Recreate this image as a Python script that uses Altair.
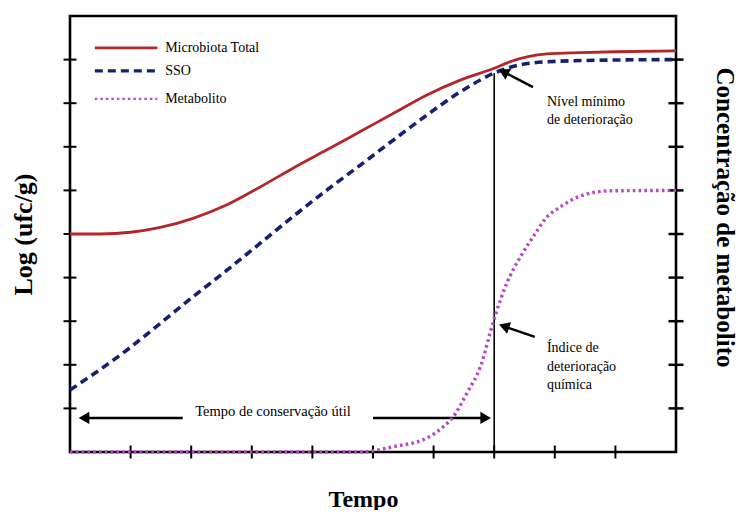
import altair as alt
import pandas as pd

# ---- data ----
x_tot = [0, 0.5, 1.0, 1.49, 2.03, 2.59, 3.14, 3.68, 4.24, 4.79, 5.34, 5.89, 6.44, 7.0, 7.26, 7.87, 8.42, 9.0, 10]
y_tot = [5.0, 5.0, 5.04, 5.15, 5.36, 5.67, 6.08, 6.51, 6.93, 7.35, 7.77, 8.19, 8.53, 8.80, 8.95, 9.13, 9.16, 9.18, 9.2]

x_sso = [0, 0.94, 1.49, 2.03, 2.59, 3.14, 3.68, 4.24, 4.79, 5.34, 5.89, 6.44, 7.0, 7.31, 7.87, 8.96, 10]
y_sso = [1.42, 2.34, 2.95, 3.56, 4.17, 4.79, 5.40, 6.01, 6.58, 7.16, 7.73, 8.26, 8.69, 8.84, 8.95, 8.99, 9.0]

x_met = [0, 4.8, 5.33, 5.89, 6.16, 6.32, 6.55, 6.77, 7.01, 7.21, 7.43, 7.64, 7.87, 8.09, 8.42, 8.91, 10]
y_met = [0, 0, 0.12, 0.32, 0.58, 0.80, 1.35, 1.95, 3.10, 3.88, 4.47, 4.93, 5.39, 5.62, 5.87, 5.99, 6.0]

series_names = ["Microbiota Total", "SSO", "Metabolito"]
series_colors = ["#b3272b", "#16206e", "#b946c3"]

tick_vals = [1, 2, 3, 4, 5, 6, 7, 8, 9]

# legend placement (data units)
leg_x0 = [0.41, 0.41, 0.41]
leg_x1 = [1.44, 1.44, 1.44]
leg_y = [9.27, 8.74, 8.10]
leg_tx = [1.57, 1.57, 1.57]

# vertical "shelf-life" marker
limit_x = 7.0
limit_top = 8.69

# annotation texts
ann_text = ["Nível mínimo", "de deterioração", "Índice de", "deterioração", "química"]
ann_x = [7.87, 7.87, 7.87, 7.87, 7.87]
ann_y = [8.03, 7.61, 2.39, 1.95, 1.54]

shelf_text = ["Tempo de conservação útil"]
shelf_x = [3.35]
shelf_y = [0.92]

# arrows: head centre, tail, head angle
arr_hx = [7.18, 7.19, 0.26, 6.83]
arr_hy = [8.70, 2.87, 0.78, 0.78]
arr_tx = [7.64, 7.67, 1.86, 5.0]
arr_ty = [8.37, 2.64, 0.78, 0.78]
arr_ang = [297, 289, 270, 90]

FONT = "Liberation Serif"

xs = alt.Scale(domain=[0, 10], nice=False, zero=False)
ys = alt.Scale(domain=[0, 10], nice=False, zero=False)

x_axis = alt.Axis(title="Tempo", labels=False, ticks=False, domain=False, grid=False,
                  titleFont=FONT, titleFontSize=24, titleFontWeight="bold", titleColor="black",
                  titlePadding=35, titleX=293)
y_axis = alt.Axis(title="Log (ufc/g)", labels=False, ticks=False, domain=False, grid=False,
                  titleFont=FONT, titleFontSize=26, titleFontWeight="bold", titleColor="black",
                  titlePadding=34)
y2_axis = alt.Axis(title="Concentração de metabolito", orient="right", labels=False, ticks=False,
                   domain=False, grid=False, titleFont=FONT, titleFontSize=25,
                   titleFontWeight="bold", titleColor="black", titlePadding=35, titleY=201)

X = lambda f: alt.X(f, type="quantitative", scale=xs, axis=x_axis)
Y = lambda f: alt.Y(f, type="quantitative", scale=ys, axis=y_axis)

df_tot = pd.DataFrame({"x": x_tot, "y": y_tot})
df_sso = pd.DataFrame({"x": x_sso, "y": y_sso})
df_met = pd.DataFrame({"x": x_met, "y": y_met})

tot = alt.Chart(df_tot).mark_line(interpolate="monotone", color=series_colors[0],
                                  strokeWidth=2.8).encode(x=X("x"), y=Y("y"))
sso = alt.Chart(df_sso).mark_line(interpolate="monotone", color=series_colors[1],
                                  strokeWidth=3.6, strokeDash=[8, 5]).encode(x=X("x"), y=Y("y"))

# legend drawn with rules + text
df_leg = pd.DataFrame({"name": series_names, "x0": leg_x0, "x1": leg_x1, "y": leg_y, "tx": leg_tx})
leg_styles = [dict(strokeWidth=2.8), dict(strokeWidth=3.2, strokeDash=[8, 5]),
              dict(strokeWidth=2.2, strokeDash=[2.5, 3])]
leg_lines = []
for i, nm in enumerate(series_names):
    leg_lines.append(
        alt.Chart(df_leg[df_leg["name"] == nm]).mark_rule(color=series_colors[i], **leg_styles[i])
        .encode(x=X("x0"), x2="x1", y=Y("y"))
    )
leg_text = alt.Chart(df_leg).mark_text(align="left", baseline="middle", font=FONT,
                                       fontSize=14, color="black").encode(
    x=X("tx"), y=Y("y"), text="name:N")

# vertical limit line
df_lim = pd.DataFrame({"x": [limit_x], "y0": [0], "y1": [limit_top]})
lim = alt.Chart(df_lim).mark_rule(color="black", strokeWidth=1.6).encode(
    x=X("x"), y=Y("y0"), y2="y1")

# annotations
df_ann = pd.DataFrame({"t": ann_text, "x": ann_x, "y": ann_y})
ann = alt.Chart(df_ann).mark_text(align="left", baseline="middle", font=FONT, fontSize=14,
                                  color="black").encode(x=X("x"), y=Y("y"), text="t:N")
df_shelf = pd.DataFrame({"t": shelf_text, "x": shelf_x, "y": shelf_y})
shelf = alt.Chart(df_shelf).mark_text(align="center", baseline="middle", font=FONT,
                                      fontSize=14.5, color="black").encode(
    x=X("x"), y=Y("y"), text="t:N")

df_arr = pd.DataFrame({"hx": arr_hx, "hy": arr_hy, "tx": arr_tx, "ty": arr_ty, "a": arr_ang})
arr_line = alt.Chart(df_arr).mark_rule(color="black", strokeWidth=2.4).encode(
    x=X("hx"), y=Y("hy"), x2="tx", y2="ty")
arr_head = alt.Chart(df_arr).mark_point(shape="triangle", filled=True, color="black", opacity=1,
                                        size=150).encode(
    x=X("hx"), y=Y("hy"), angle=alt.Angle("a:Q", scale=None))

# crossing tick marks
df_lt = pd.DataFrame({"x": [0] * len(tick_vals), "y": tick_vals})
df_rt = pd.DataFrame({"x": [10] * len(tick_vals), "y": tick_vals})
df_bt = pd.DataFrame({"x": tick_vals, "y": [0] * len(tick_vals)})
lt = alt.Chart(df_lt).mark_tick(orient="horizontal", size=13, thickness=2, color="black",
                                opacity=1).encode(x=X("x"), y=Y("y"))
rt = alt.Chart(df_rt).mark_tick(orient="horizontal", size=15, thickness=2.5, color="black",
                                opacity=1).encode(x=X("x"), y=Y("y"))
bt = alt.Chart(df_bt).mark_tick(orient="vertical", size=13, thickness=2, color="black",
                                opacity=1).encode(x=X("x"), y=Y("y"))

left_group = alt.layer(lt, rt, bt, lim, tot, sso, *leg_lines, leg_text, ann, shelf,
                       arr_line, arr_head)

met = alt.Chart(df_met).mark_line(interpolate="monotone", color=series_colors[2],
                                  strokeWidth=3.4, strokeDash=[2.6, 3.2]).encode(
    x=X("x"), y=alt.Y("y", type="quantitative", scale=ys, axis=y2_axis))

chart = alt.layer(left_group, met).resolve_scale(y="independent").properties(
    width=606, height=436,
    autosize=alt.AutoSizeParams(type="none"),
    padding={"left": 62, "top": 8, "right": 61, "bottom": 58},
    background="white",
).configure_view(stroke="black", strokeWidth=2.6)

chart.save("out.html", embed_options={"renderer": "svg", "actions": False})
